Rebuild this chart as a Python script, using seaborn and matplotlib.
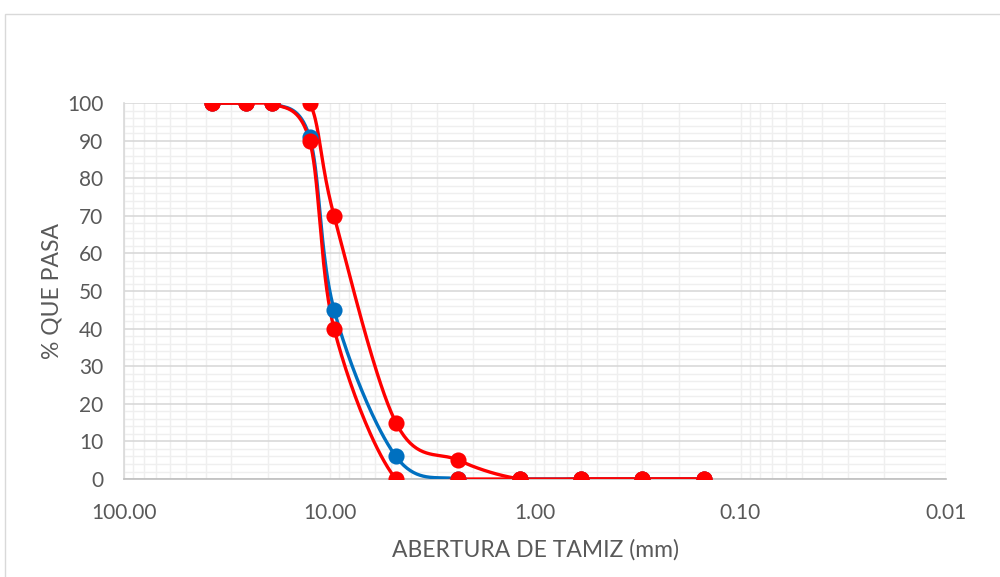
import numpy as np
import pandas as pd
import matplotlib
matplotlib.use("Agg")
import matplotlib.pyplot as plt
import matplotlib.ticker as mticker
from matplotlib.patches import Rectangle
import seaborn as sns

# ---- data ----
sieve_mm = [37.5, 25.4, 19.05, 12.5, 9.5, 4.75, 2.36, 1.18, 0.6, 0.3, 0.15]
muestra = [100, 100, 100, 91, 45, 6, 0, 0, 0, 0, 0]
lim_sup = [100, 100, 100, 100, 70, 15, 5, 0, 0, 0, 0]
lim_inf = [100, 100, 100, 90, 40, 0, 0, 0, 0, 0, 0]
x_ticks = [100, 10, 1, 0.1, 0.01]
y_ticks = list(range(0, 101, 10))

sns.set_theme(style="white")
plt.rcParams['font.family'] = ['Lato', 'DejaVu Sans']

fig = plt.figure(figsize=(10, 5.77), dpi=100)
ax = fig.add_axes([0.124, 0.1698, 0.822, 0.6516])

W, H = 822.0, 376.0


def to_px(x, y):
    return (2 - np.log10(np.asarray(x, float))) / 4 * W, np.asarray(y, float) / 100 * H


def from_px(u, v):
    return 10 ** (2 - u / W * 4), v / H * 100


def smooth(x, y, n=40):
    u, v = to_px(x, y)
    P = np.column_stack([u, v])
    out = []
    m = len(P)
    for i in range(m - 1):
        p0 = P[i - 1] if i > 0 else P[i]
        p1 = P[i]
        p2 = P[i + 1]
        p3 = P[i + 2] if i + 2 < m else P[i + 1]
        c1 = p1 + (p2 - p0) / 6
        c2 = p2 - (p3 - p1) / 6
        t = np.linspace(0, 1, n)[:, None]
        seg = (1 - t) ** 3 * p1 + 3 * (1 - t) ** 2 * t * c1 + 3 * (1 - t) * t ** 2 * c2 + t ** 3 * p2
        out.append(seg if i == 0 else seg[1:])
    pts = np.vstack(out)
    return from_px(pts[:, 0], pts[:, 1])


series = [("Muestra", muestra, "#0070C0"),
          ("Lim sup", lim_sup, "#FF0000"),
          ("Lim inf", lim_inf, "#FF0000")]

for name, vals, col in series:
    sx, sy = smooth(sieve_mm, vals)
    df_s = pd.DataFrame({"x": sx, "y": sy})
    sns.lineplot(data=df_s, x="x", y="y", sort=False, estimator=None, color=col,
                 linewidth=2.4, ax=ax, zorder=3)
    df_p = pd.DataFrame({"x": sieve_mm, "y": vals})
    sns.scatterplot(data=df_p, x="x", y="y", color=col, s=135, edgecolor=col,
                    linewidth=0, ax=ax, zorder=4)

ax.set_xscale("log")
ax.set_xlim(100, 0.01)
ax.set_ylim(0, 100)
ax.set_xticks(x_ticks)
ax.xaxis.set_major_formatter(mticker.FuncFormatter(lambda v, p: f"{v:.2f}"))
ax.xaxis.set_minor_locator(mticker.LogLocator(base=10, subs=np.arange(2, 10)))
ax.xaxis.set_minor_formatter(mticker.NullFormatter())
ax.set_yticks(y_ticks)
ax.yaxis.set_minor_locator(mticker.MultipleLocator(2))

ax.grid(which="major", axis="y", color="#D9D9D9", linewidth=1.2, zorder=0)
ax.grid(which="major", axis="x", color="#EFEFEF", linewidth=1.0, zorder=0)
ax.grid(which="minor", color="#EFEFEF", linewidth=1.0, zorder=0)
ax.set_axisbelow(True)

for s in ["top", "right"]:
    ax.spines[s].set_visible(False)
ax.spines["bottom"].set_color("#BFBFBF")
ax.spines["bottom"].set_linewidth(1.2)
ax.spines["left"].set_color("#D9D9D9")
ax.spines["left"].set_linewidth(1.2)

ax.tick_params(axis="both", which="both", length=0, labelsize=15, colors="#595959")
ax.tick_params(axis="x", pad=17)
ax.tick_params(axis="y", pad=15)

ax.set_xlabel("ABERTURA DE TAMIZ (mm)", fontsize=16.5, color="#595959", labelpad=12)
ax.set_ylabel("% QUE PASA", fontsize=16.5, color="#595959", labelpad=3)

fig.patches.append(Rectangle((0.005, -0.05), 1.5, 1 - 14 / 577 + 0.05,
                             transform=fig.transFigure, fill=False,
                             edgecolor="#D9D9D9", linewidth=1.0))

fig.savefig("out.png", dpi=100)
